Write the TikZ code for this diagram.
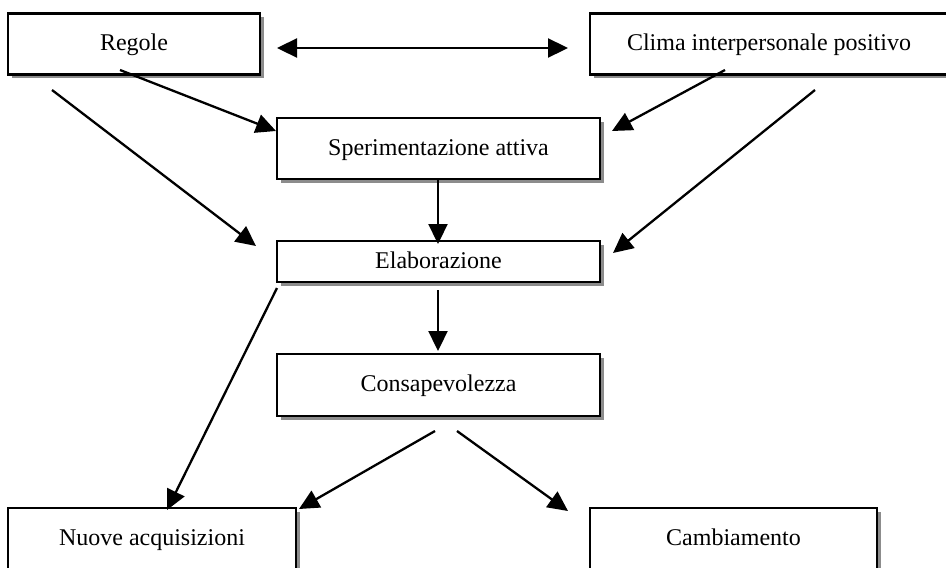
\documentclass[tikz,border=0pt]{standalone}
\usepackage{fontspec}
\setmainfont{Liberation Serif}
\usetikzlibrary{arrows.meta,shadows}
\tikzset{
  box/.style={draw=black, line width=2.5pt, fill=white, inner sep=0pt,
    font=\fontsize{24}{28}\selectfont, text height=17pt, text depth=4pt,
    drop shadow={shadow xshift=3.5pt, shadow yshift=-3.5pt, fill=black!45, opacity=1}},
  arr/.style={line width=2.3pt, -{Triangle[length=20pt,width=19pt]}},
  darr/.style={line width=2.3pt, {Triangle[length=20pt,width=19pt]}-{Triangle[length=20pt,width=19pt]}}
}
\begin{document}
\begin{tikzpicture}[x=1pt,y=-1pt]
\clip (0,0) rectangle (946,568);
\fill[white] (0,0) rectangle (946,568);
\node[box, minimum width=252pt, minimum height=61pt] (reg) at (134,44) {Regole};
\node[box, minimum width=358pt, minimum height=61pt] (clima) at (769,44) {Clima interpersonale positivo};
\node[box, minimum width=323pt, minimum height=61pt] (sper) at (438.5,148.5) {Sperimentazione attiva};
\node[box, minimum width=323pt, minimum height=41pt] (elab) at (438.5,261.5) {Elaborazione};
\node[box, minimum width=323pt, minimum height=62pt] (cons) at (438.5,385) {Consapevolezza};
\node[box, minimum width=288pt, minimum height=61pt] (nuove) at (152,538.5) {Nuove acquisizioni};
\node[box, minimum width=287pt, minimum height=61pt] (camb) at (733.5,538.5) {Cambiamento};

\coordinate (d1) at (277,48);
\coordinate (d2) at (568,48);
\coordinate (r1) at (120,70);
\coordinate (r1e) at (276,131);
\coordinate (r2) at (52,90);
\coordinate (r2e) at (256,246);
\coordinate (c1) at (725,70);
\coordinate (c1e) at (612,131);
\coordinate (c2) at (815,90);
\coordinate (c2e) at (613,253);
\coordinate (s1) at (438,180);
\coordinate (s1e) at (438,244);
\coordinate (e1) at (438,290);
\coordinate (e1e) at (438,351);
\coordinate (e2) at (277,288);
\coordinate (e2e) at (167,510);
\coordinate (k1) at (435,431);
\coordinate (k1e) at (299,509);
\coordinate (k2) at (457,431);
\coordinate (k2e) at (568,511);

\draw[darr] (d1) -- (d2);
\draw[arr] (r1) -- (r1e);
\draw[arr] (r2) -- (r2e);
\draw[arr] (c1) -- (c1e);
\draw[arr] (c2) -- (c2e);
\draw[arr] (s1) -- (s1e);
\draw[arr] (e1) -- (e1e);
\draw[arr] (e2) -- (e2e);
\draw[arr] (k1) -- (k1e);
\draw[arr] (k2) -- (k2e);
\end{tikzpicture}
\end{document}
